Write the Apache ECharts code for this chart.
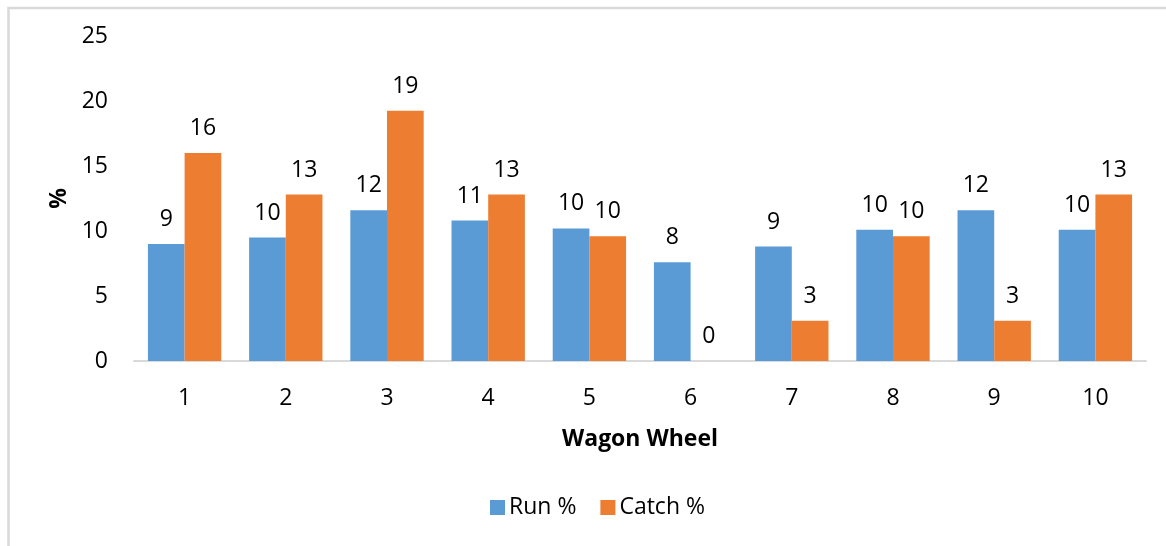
<!DOCTYPE html>
<html>
<head>
<meta charset="utf-8">
<script src="https://cdn.jsdelivr.net/npm/echarts@6/dist/echarts.min.js"></script>
<style>
html,body{margin:0;padding:0;background:#fff;}
#chart{width:1166px;height:546px;}
</style>
</head>
<body>
<div id="chart"></div>
<script>
const categories = ['1','2','3','4','5','6','7','8','9','10'];
const runPct = [9.0, 9.5, 11.6, 10.8, 10.2, 7.6, 8.8, 10.1, 11.6, 10.1];
const catchPct = [16.0, 12.8, 19.25, 12.8, 9.6, 0, 3.1, 9.6, 3.1, 12.8];
const yTicks = {min: 0, max: 25, interval: 5};

const FONT = 'Open Sans';
const FS = 23;
const chart = echarts.init(document.getElementById('chart'), null, {renderer: 'canvas'});
const labelCfg = {
  show: true,
  position: 'top',
  distance: 13,
  color: '#000',
  fontFamily: FONT,
  fontSize: FS,
  formatter: p => Math.round(p.value)
};
chart.setOption({
  animation: false,
  textStyle: {fontFamily: FONT},
  graphic: [{
    type: 'rect',
    shape: {x: 8.5, y: 8, width: 1200, height: 600},
    style: {fill: 'none', stroke: '#d9d9d9', lineWidth: 2.5},
    silent: true
  }],
  grid: {left: 134, right: 20, top: 36, bottom: 185, containLabel: false},
  legend: {
    data: ['Run %', 'Catch %'],
    bottom: 22,
    left: 485,
    itemWidth: 15,
    itemHeight: 15,
    itemGap: 24,
    icon: 'rect',
    textStyle: {fontFamily: FONT, fontSize: FS, color: '#000', padding: [0, 0, 0, -1]}
  },
  xAxis: {
    type: 'category',
    data: categories,
    name: 'Wagon Wheel',
    nameLocation: 'middle',
    nameGap: 67,
    nameTextStyle: {fontFamily: FONT, fontSize: FS, fontWeight: 'bold', color: '#000'},
    axisLine: {lineStyle: {color: '#d9d9d9', width: 2}},
    axisTick: {show: false},
    axisLabel: {color: '#000', fontFamily: FONT, fontSize: FS, margin: 26}
  },
  yAxis: {
    type: 'value',
    min: yTicks.min,
    max: yTicks.max,
    interval: yTicks.interval,
    name: '%',
    nameLocation: 'middle',
    nameGap: 62,
    nameRotate: 90,
    nameTextStyle: {fontFamily: FONT, fontSize: FS, fontWeight: 'bold', color: '#000'},
    axisLine: {show: false},
    axisTick: {show: false},
    splitLine: {show: false},
    axisLabel: {color: '#000', fontFamily: FONT, fontSize: FS, margin: 26}
  },
  series: [
    {
      name: 'Run %',
      type: 'bar',
      data: runPct,
      itemStyle: {color: '#5B9BD5'},
      barGap: '0%',
      barCategoryGap: '27.5%',
      label: labelCfg
    },
    {
      name: 'Catch %',
      type: 'bar',
      data: catchPct,
      itemStyle: {color: '#ED7D31'},
      barGap: '0%',
      barCategoryGap: '27.5%',
      label: labelCfg
    }
  ]
});
</script>
</body>
</html>
